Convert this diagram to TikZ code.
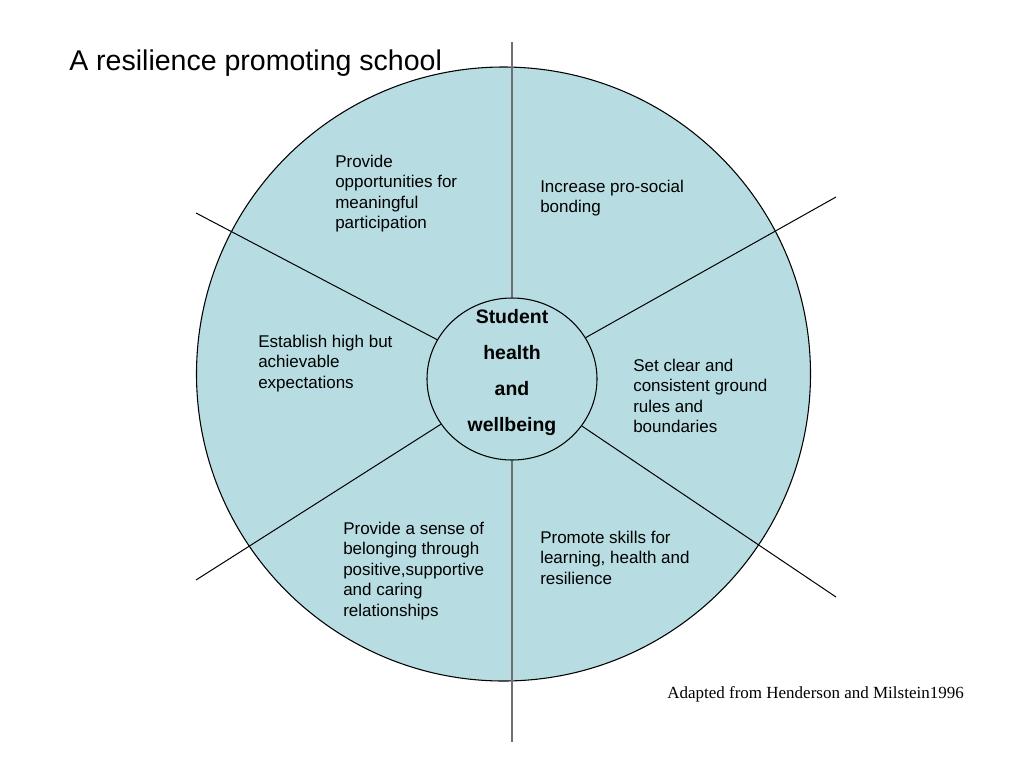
\documentclass[tikz,border=0pt]{standalone}
\usepackage{fontspec}
\setmainfont{Liberation Sans}
\newfontfamily\seriffont{Liberation Serif}
\usetikzlibrary{shapes.geometric}
\definecolor{wheelblue}{HTML}{B7DDE2}
\definecolor{spokegray}{HTML}{6F6F6F}
\begin{document}
\begin{tikzpicture}[x=0.75pt,y=-0.75pt,
  body/.style={anchor=north west, inner sep=0pt, align=left, font=\fontsize{12.75}{15.3}\selectfont, text=black},
  spoke/.style={draw=black, line width=0.75pt},
  axisline/.style={draw=spokegray, line width=1.1pt},
  disc/.style={draw=black, line width=0.8pt, fill=wheelblue, inner sep=0pt}]
\useasboundingbox (0,0) rectangle (1024,768);
\fill[white] (0,0) rectangle (1024,768);
\node[disc, circle, minimum size=460.5pt] (wheel) at (503.5,374) {};
\node[disc, ellipse, minimum width=127.5pt, minimum height=121.5pt] (hub) at (512,379) {};
\coordinate (ntop) at (512,42);
\coordinate (nbot) at (512,742);
\coordinate (ul) at (196,213);
\coordinate (ur) at (836,197);
\coordinate (ll) at (196,580);
\coordinate (lr) at (836,597);
\draw[axisline] (hub) -- (ntop);
\draw[axisline] (hub) -- (nbot);
\draw[spoke] (hub) -- (ul);
\draw[spoke] (hub) -- (ur);
\draw[spoke] (hub) -- (ll);
\draw[spoke] (hub) -- (lr);
\node[anchor=north, inner sep=0pt, align=center, font=\bfseries\fontsize{14.6}{27}\selectfont] (hubtext) at (512,309) {Student\\health\\and\\wellbeing};
\node[body] (t1) at (335,155) {Provide\\opportunities for\\meaningful\\participation};
\node[body] (t2) at (540,180) {Increase pro-social\\bonding};
\node[body] (t3) at (258,335) {Establish high but\\achievable\\expectations};
\node[body] (t4) at (633,359) {Set clear and\\consistent ground\\rules and\\boundaries};
\node[body] (t5) at (343,522) {Provide a sense of\\belonging through\\positive,supportive\\and caring\\relationships};
\node[body] (t6) at (540,531) {Promote skills for\\learning, health and\\resilience};
\node[anchor=base west, inner sep=0pt, font=\fontsize{21.4}{26}\selectfont] (title) at (69,70.5) {A resilience promoting school};
\node[anchor=base west, inner sep=0pt, font=\seriffont\fontsize{12.75}{15}\selectfont] (credit) at (667,698) {Adapted from Henderson and Milstein1996};
\end{tikzpicture}
\end{document}
